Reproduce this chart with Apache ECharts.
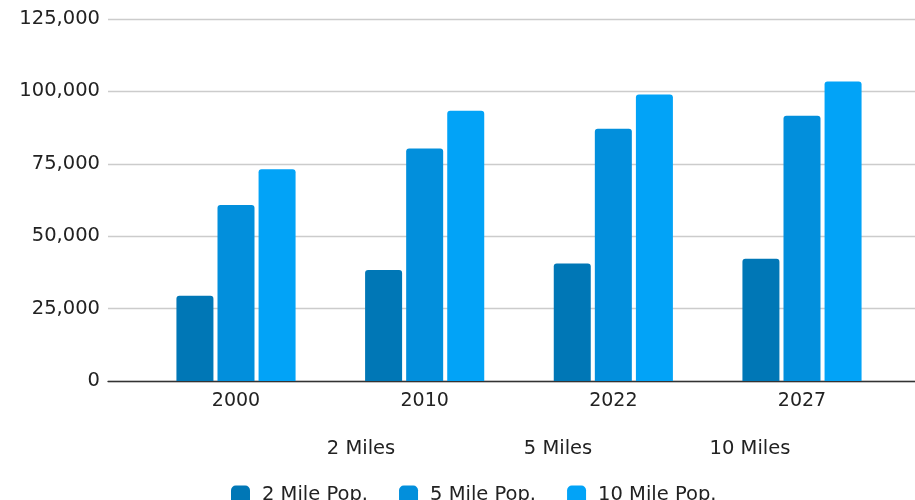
<!DOCTYPE html>
<html>
<head>
<meta charset="utf-8">
<script src="https://cdn.jsdelivr.net/npm/echarts@6/dist/echarts.min.js"></script>
<style>
html,body{margin:0;padding:0;background:#fff;}
#chart{width:915px;height:500px;}
</style>
</head>
<body>
<div id="chart"></div>
<script>
const categories = ['2000', '2010', '2022', '2027'];
const seriesNames = ['2 Mile Pop.', '5 Mile Pop.', '10 Mile Pop.'];
const pop2Mile = [29400, 38300, 40600, 42200];
const pop5Mile = [60800, 80300, 87100, 91600];
const pop10Mile = [73100, 93300, 98900, 103400];
const radiusLabels = ['2 Miles', '5 Miles', '10 Miles'];
const yTicks = [0, 25000, 50000, 75000, 100000, 125000];

const FONT = '"DejaVu Sans", Verdana, sans-serif';
const colors = ['#0077B6', '#028FDC', '#02A3F7'];
const radiusX = [361, 558, 750];

const chart = echarts.init(document.getElementById('chart'));
const yMin = yTicks[0], yMax = yTicks[yTicks.length - 1], yInt = yTicks[1] - yTicks[0];
const fmt = v => v.toLocaleString('en-US');

const option = {
  animation: false,
  textStyle: { fontFamily: FONT },
  grid: [
    { left: 108, right: 0, top: 19, bottom: 119 },
    { left: 141.67, right: 18.67, top: 19, bottom: 119 }
  ],
  xAxis: [
    { type: 'category', gridIndex: 0, data: categories,
      axisLine: { show: true, lineStyle: { color: '#333', width: 1.3 } },
      axisTick: { show: false }, axisLabel: { show: false } },
    { type: 'category', gridIndex: 1, data: categories,
      axisLine: { show: false }, axisTick: { show: false },
      axisLabel: { color: '#222', fontSize: 19, fontFamily: FONT, margin: 11 } }
  ],
  yAxis: [
    { type: 'value', gridIndex: 0, min: yMin, max: yMax, interval: yInt,
      axisLine: { show: false }, axisTick: { show: false },
      axisLabel: { color: '#222', fontSize: 19.5, fontFamily: FONT, margin: 8, formatter: fmt,
        padding: [2, 0, 0, 0] },
      splitLine: { lineStyle: { color: '#cccccc', width: 1.3 } } },
    { type: 'value', gridIndex: 1, min: yMin, max: yMax, interval: yInt, show: false,
      splitLine: { show: false } }
  ],
  legend: {
    data: seriesNames,
    left: 226, top: 480,
    icon: 'roundRect',
    itemWidth: 19, itemHeight: 19, itemGap: 31,
    textStyle: { color: '#222', fontSize: 19.5, fontFamily: FONT, padding: [0, 0, 0, 7] }
  },
  graphic: radiusLabels.map((t, i) => ({
    type: 'text', x: radiusX[i], y: 449,
    style: { text: t, fill: '#222', fontSize: 19.5, fontFamily: FONT,
      textAlign: 'center', textVerticalAlign: 'middle' }
  })),
  series: [pop2Mile, pop5Mile, pop10Mile].map((d, i) => ({
    name: seriesNames[i], type: 'bar', xAxisIndex: 1, yAxisIndex: 1,
    data: d, barWidth: 37, barGap: '11%',
    itemStyle: { color: colors[i], borderRadius: [3, 3, 0, 0] }
  }))
};
chart.setOption(option);
</script>
</body>
</html>
